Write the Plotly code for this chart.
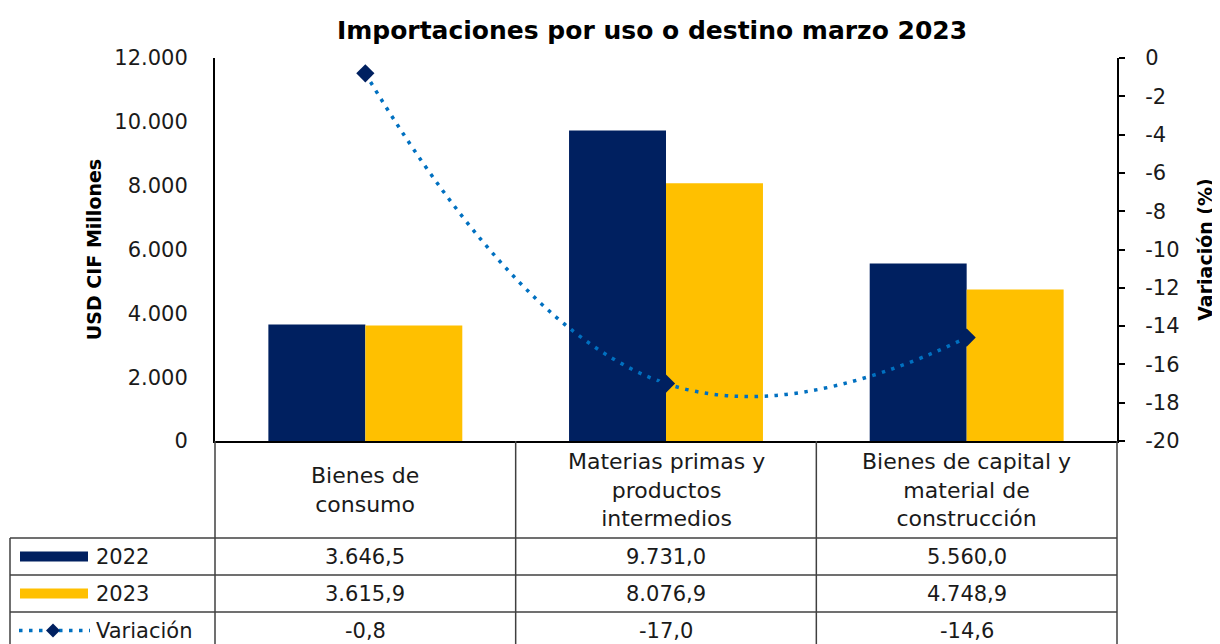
import plotly.graph_objects as go

# ---------------- data ----------------
categories = ["Bienes de consumo",
              "Materias primas y productos intermedios",
              "Bienes de capital y material de construcción"]
category_labels = ["Bienes de<br>consumo",
                   "Materias primas y<br>productos<br>intermedios",
                   "Bienes de capital y<br>material de<br>construcción"]
series_names = ["2022", "2023", "Variación"]
values_2022 = [3646.5, 9731.0, 5560.0]
values_2023 = [3615.9, 8076.9, 4748.9]
variacion = [-0.8, -17.0, -14.6]
left_ticks = [0, 2000, 4000, 6000, 8000, 10000, 12000]
right_ticks = [0, -2, -4, -6, -8, -10, -12, -14, -16, -18, -20]

# ---------------- layout helpers ----------------
W, H = 1220, 644
OFF = 8                      # page body margin of the html page
PL, PR, PT, PB = 215, 1117, 58, 441   # plot area in screen pixels
ML, MT = PL - OFF, PT - OFF
PW, PH = PR - PL, PB - PT
MR = W - ML - PW
MB = H - MT - PH


def fx(px):
    """screen x pixel -> paper x"""
    return (px - PL) / PW


def fy(py):
    """screen y pixel -> paper y"""
    return (PB - py) / PH


def es(v, dec=1):
    s = f"{v:,.{dec}f}"
    return s.replace(",", "X").replace(".", ",").replace("X", ".")


FONT = "Century Gothic, DejaVu Sans, sans-serif"
NAVY = "#002060"
GOLD = "#FFC000"
BLUE = "#0070C0"
GRID = "#404040"
TXT = "#1a1a1a"
DOT = "3.5px,6.5px"

fig = go.Figure()
fig.add_trace(go.Bar(x=categories, y=values_2022, name=series_names[0],
                     marker=dict(color=NAVY, line=dict(width=0))))
fig.add_trace(go.Bar(x=categories, y=values_2023, name=series_names[1],
                     marker=dict(color=GOLD, line=dict(width=0))))
fig.add_trace(go.Scatter(x=categories, y=variacion, name=series_names[2], yaxis="y2",
                         mode="lines+markers",
                         line=dict(color=BLUE, width=3.5, dash=DOT, shape="spline", smoothing=1.3),
                         marker=dict(symbol="diamond", size=14, color=NAVY)))

fig.update_layout(
    template="none",
    width=W, height=H,
    margin=dict(l=ML, r=MR, t=MT, b=MB, autoexpand=False),
    paper_bgcolor="white", plot_bgcolor="white",
    barmode="group", bargap=0.355, bargroupgap=0,
    showlegend=False,
    font=dict(family=FONT, size=21, color=TXT),
    title=dict(text="<b>Importaciones por uso o destino marzo 2023</b>",
               font=dict(family=FONT, size=25, color="black"),
               x=fx(652), xref="paper", xanchor="center",
               y=1 - (30 - OFF) / H, yref="container", yanchor="middle"),
    xaxis=dict(range=[-0.5, 2.5], showticklabels=False, ticks="",
               showline=True, linecolor="black", linewidth=2, showgrid=False,
               zeroline=False, automargin=False),
    yaxis=dict(range=[0, 12000], tickvals=left_ticks,
               ticktext=[es(t, 0) for t in left_ticks],
               showline=True, linecolor="black", linewidth=2, ticks="",
               showgrid=False, zeroline=False, ticklabelstandoff=21,
               automargin=False,
               tickfont=dict(family=FONT, size=21, color=TXT),
               title=dict(text="<b>USD CIF Millones</b>", standoff=8,
                          font=dict(family=FONT, size=19, color="black"))),
    yaxis2=dict(range=[-20, 0], overlaying="y", side="right",
                tickvals=right_ticks, ticktext=[str(t) for t in right_ticks],
                showline=True, linecolor="black", linewidth=2,
                ticks="outside", ticklen=6, tickwidth=2, tickcolor="black",
                showgrid=False, zeroline=False, ticklabelstandoff=16,
                automargin=False,
                tickfont=dict(family=FONT, size=21, color=TXT),
                title=dict(text="<b>Variación (%)</b>", standoff=20,
                           font=dict(family=FONT, size=19, color="black"))),
)

# ---------------- data table under the chart ----------------
n = len(categories)
header_bottom = 538
row_h = 37
row_tops = [header_bottom + i * row_h for i in range(3)]
left_edge = 10
shapes = []
line_style = dict(color=GRID, width=1.5)

# vertical lines
for i in range(n + 1):
    shapes.append(dict(type="line", xref="paper", yref="paper",
                       x0=i / n, x1=i / n, y0=0, y1=fy(H + 20), line=line_style))
shapes.append(dict(type="line", xref="paper", yref="paper",
                   x0=fx(left_edge), x1=fx(left_edge), y0=fy(header_bottom), y1=fy(H + 20),
                   line=line_style))
# horizontal lines
for top in row_tops:
    shapes.append(dict(type="line", xref="paper", yref="paper",
                       x0=fx(left_edge), x1=1, y0=fy(top), y1=fy(top), line=line_style))

annotations = []
# header category labels
for i, lab in enumerate(category_labels):
    annotations.append(dict(text=lab, xref="paper", yref="paper",
                            x=(i + 0.5) / n, y=fy((PB + header_bottom) / 2 + 1),
                            xanchor="center", yanchor="middle", showarrow=False,
                            font=dict(family=FONT, size=22, color=TXT)))

rows = [values_2022, values_2023, variacion]
for r, (name, vals) in enumerate(zip(series_names, rows)):
    cy = row_tops[r] + row_h / 2
    for i, v in enumerate(vals):
        annotations.append(dict(text=es(v), xref="paper", yref="paper",
                                x=(i + 0.5) / n, y=fy(cy), xanchor="center",
                                yanchor="middle", showarrow=False,
                                font=dict(family=FONT, size=21, color=TXT)))
    annotations.append(dict(text=name, xref="paper", yref="paper",
                            x=fx(94), y=fy(cy), xanchor="left", yanchor="middle",
                            showarrow=False,
                            font=dict(family=FONT, size=21, color=TXT)))

# legend keys
for r, col in enumerate([NAVY, GOLD]):
    cy = row_tops[r] + row_h / 2
    shapes.append(dict(type="rect", xref="paper", yref="paper",
                       x0=fx(20), x1=fx(88), y0=fy(cy - 5), y1=fy(cy + 5),
                       fillcolor=col, line=dict(width=0)))
cy = row_tops[2] + row_h / 2
shapes.append(dict(type="line", xref="paper", yref="paper",
                   x0=fx(19), x1=fx(90), y0=fy(cy), y1=fy(cy),
                   line=dict(color=BLUE, width=3.5, dash=DOT)))
d = 7
shapes.append(dict(type="path", xref="paper", yref="paper",
                   path=(f"M {fx(53 - d)} {fy(cy)} L {fx(53)} {fy(cy - d)} "
                         f"L {fx(53 + d)} {fy(cy)} L {fx(53)} {fy(cy + d)} Z"),
                   fillcolor=NAVY, line=dict(width=0)))

fig.update_layout(shapes=shapes, annotations=annotations)
fig.write_html("out.html")
